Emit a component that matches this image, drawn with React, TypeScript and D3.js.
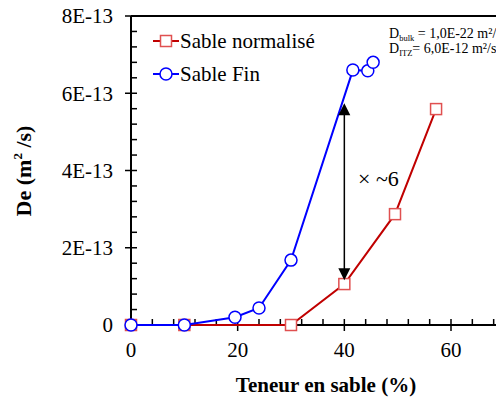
import React from "react";
import * as d3 from "d3";

const normX = [0, 10, 30, 40, 49.5, 57.2];
const normY = [0, 0, 0, 1.06e-13, 2.87e-13, 5.59e-13];
const finX = [0, 10, 19.5, 24, 30, 41.6, 44.4, 45.4];
const finY = [0, 0, 0.2e-13, 0.44e-13, 1.68e-13, 6.6e-13, 6.58e-13, 6.8e-13];
const xTicks = [0, 20, 40, 60];
const yTicks = [0, 2e-13, 4e-13, 6e-13, 8e-13];
const yTickLabels = ["0", "2E-13", "4E-13", "6E-13", "8E-13"];
const arrowX = 40;
const arrowFrom = 1.16e-13;
const arrowTo = 5.74e-13;

const W = 496, H = 397;
const FONT = "Liberation Serif, serif";
const RED = "#c00000";
const RED_M = "#e05050";
const BLUE = "#0000ff";

export default function App() {
  const x = d3.scaleLinear().domain([0, 70]).range([131, 131 + 70 * (320 / 60)]);
  const y = d3.scaleLinear().domain([0, 8e-13]).range([325, 16]);
  const line = d3.line<[number, number]>().x(d => x(d[0])).y(d => y(d[1]));
  const normPts: [number, number][] = normX.map((v, i) => [v, normY[i]]);
  const finPts: [number, number][] = finX.map((v, i) => [v, finY[i]]);
  const xMinor = d3.range(0, 70.01, 4).filter(v => xTicks.indexOf(v) < 0);
  const yMinor = d3.range(0, 8.01e-13, 0.4e-13).filter(v => !yTicks.some(t => Math.abs(t - v) < 1e-16));
  const ax = x(arrowX);
  const yTop = y(arrowTo), yBot = y(arrowFrom);
  const sq = 11;
  const ts = { fontFamily: FONT };
  return (
    <svg width={W} height={H} style={{ position: "absolute", left: 0, top: 0, fontFamily: FONT }}>
      <rect width={W} height={H} fill="#fff" />
      <line x1={131} x2={W} y1={16} y2={16} stroke="#000" strokeWidth={2} />
      <line x1={131} x2={131} y1={16} y2={326} stroke="#000" strokeWidth={2} />
      <line x1={130} x2={W} y1={325} y2={325} stroke="#000" strokeWidth={2} />
      {yTicks.map((t, i) => (
        <g key={"yt" + i}>
          <line x1={125} x2={137} y1={y(t)} y2={y(t)} stroke="#000" strokeWidth={1.5} />
          <text style={ts} x={113} y={y(t)} dy="0.35em" textAnchor="end" fontSize={21}>{yTickLabels[i]}</text>
        </g>
      ))}
      {yMinor.map((t, i) => (
        <line key={"ym" + i} x1={131} x2={137} y1={y(t)} y2={y(t)} stroke="#000" strokeWidth={1.5} />
      ))}
      {xTicks.map((t, i) => (
        <g key={"xt" + i}>
          <line x1={x(t)} x2={x(t)} y1={319} y2={331} stroke="#000" strokeWidth={1.5} />
          <text style={ts} x={x(t)} y={357} textAnchor="middle" fontSize={21}>{t}</text>
        </g>
      ))}
      {xMinor.map((t, i) => (
        <line key={"xm" + i} x1={x(t)} x2={x(t)} y1={319} y2={325} stroke="#000" strokeWidth={1.5} />
      ))}
      <path d={line(normPts) || ""} fill="none" stroke={RED} strokeWidth={2} />
      {normPts.map((p, i) => (
        <rect key={"n" + i} x={x(p[0]) - sq / 2} y={y(p[1]) - sq / 2} width={sq} height={sq} fill="#fff" stroke={RED_M} strokeWidth={1.5} />
      ))}
      <path d={line(finPts) || ""} fill="none" stroke={BLUE} strokeWidth={2} />
      {finPts.map((p, i) => (
        <circle key={"f" + i} cx={x(p[0])} cy={y(p[1])} r={6} fill="#fff" stroke={BLUE} strokeWidth={1.5} />
      ))}
      <line x1={ax} x2={ax} y1={yTop + 10} y2={yBot - 10} stroke="#000" strokeWidth={1.5} />
      <path d={`M${ax},${yTop} L${ax - 6},${yTop + 12} L${ax + 6},${yTop + 12} Z`} fill="#000" />
      <path d={`M${ax},${yBot} L${ax - 6},${yBot - 12} L${ax + 6},${yBot - 12} Z`} fill="#000" />
      <text style={ts} x={358} y={178} dy="0.35em" fontSize={22}>×{"\u00a0"}~6</text>
      <line x1={153} x2={179} y1={41} y2={41} stroke={RED} strokeWidth={2} />
      <rect x={166 - sq / 2} y={41 - sq / 2} width={sq} height={sq} fill="#fff" stroke={RED_M} strokeWidth={1.5} />
      <text style={ts} x={180} y={41} dy="0.35em" fontSize={21}>Sable normalisé</text>
      <line x1={153} x2={179} y1={74} y2={74} stroke={BLUE} strokeWidth={2} />
      <circle cx={166} cy={74} r={6} fill="#fff" stroke={BLUE} strokeWidth={1.5} />
      <text style={ts} x={180} y={74} dy="0.35em" fontSize={21}>Sable Fin</text>
      <text style={ts} x={389} y={38} fontSize={14}>
        D<tspan fontSize={8.5} dy={3}>bulk</tspan><tspan dy={-3}> = 1,0E-22 m²/s</tspan>
      </text>
      <text style={ts} x={389} y={53} fontSize={14}>
        D<tspan fontSize={8.5} dy={3}>ITZ</tspan><tspan dy={-3}>= 6,0E-12 m²/s</tspan>
      </text>
      <text style={ts} x={326} y={392} textAnchor="middle" fontSize={21} fontWeight="bold">Teneur en sable (%)</text>
      <text style={ts} transform="translate(31,171) rotate(-90)" textAnchor="middle" fontSize={22} fontWeight="bold">
        De (m<tspan fontSize={13} dy={-9}>2</tspan><tspan dy={9}>{"\u00a0"}/s)</tspan>
      </text>
    </svg>
  );
}
